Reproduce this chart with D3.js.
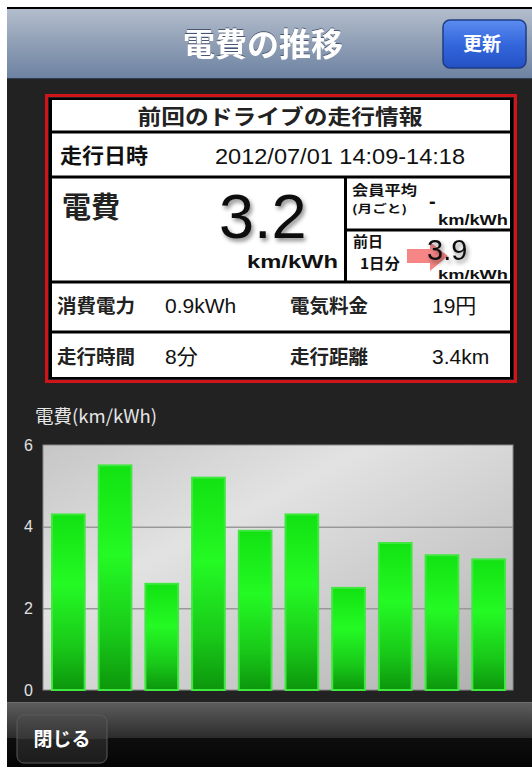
<!DOCTYPE html>
<html>
<head>
<meta charset="utf-8">
<script src="https://cdn.jsdelivr.net/npm/d3@7"></script>
<style>
  html, body { margin: 0; padding: 0; background: #fff; }
  svg { display: block; }
  text { font-family: "Liberation Sans", "Noto Sans CJK JP", sans-serif; }
  .jp { font-family: "Noto Sans CJK JP", sans-serif; }
</style>
</head>
<body>
<div id="chart"></div>
<script>
const width = 532;
const height = 767;

// chart data
const barValues = [4.3, 5.5, 2.6, 5.2, 3.9, 4.3, 2.5, 3.6, 3.3, 3.2];
const yTicks = [0, 2, 4, 6];
const gridTicks = [2, 4];
const yTitle = "電費(km/kWh)";

// info panel text
const pageTitle = "電費の推移";
const panelTitle = "前回のドライブの走行情報";
const driveDate = "2012/07/01  14:09-14:18";
const mileage = "3.2";
const memberAvg = "-";
const prevDay = "3.9";
const unit = "km/kWh";
const statLabels = ["消費電力", "電気料金", "走行時間", "走行距離"];
const statValues = ["0.9kWh", "19円", "8分", "3.4km"];

const svg = d3.select("#chart")
    .append("svg")
    .attr("width", width)
    .attr("height", height);

const defs = svg.append("defs");

function linGrad(id, stops, x2 = 0, y2 = 1) {
    const g = defs.append("linearGradient")
        .attr("id", id)
        .attr("x1", 0).attr("y1", 0)
        .attr("x2", x2).attr("y2", y2);
    stops.forEach(s => g.append("stop").attr("offset", s[0]).attr("stop-color", s[1]));
}

linGrad("navGrad", [[0, "#b3becd"], [0.5, "#8f9eb5"], [1, "#6c82a1"]]);
linGrad("btnBlue", [[0, "#5b8cf0"], [0.5, "#3467dc"], [1, "#2351c4"]]);
linGrad("toolGrad", [[0, "#5e5e5e"], [0.55, "#2c2c2c"], [0.551, "#0e0e0e"], [1, "#050505"]]);
linGrad("btnDark", [[0, "#4c4c4c"], [0.5, "#363636"], [0.51, "#252525"], [1, "#1c1c1c"]]);
linGrad("plotGrad", [[0, "#c6c6c6"], [0.35, "#e2e2e2"], [0.75, "#c4c4c4"], [1, "#adadad"]], 1, 1);
linGrad("barGrad", [[0, "#12e212"], [0.4, "#24fa24"], [0.75, "#19c919"], [1, "#0c960c"]]);

const shadow = defs.append("filter").attr("id", "shadow")
    .attr("x", "-20%").attr("y", "-20%").attr("width", "140%").attr("height", "140%");
shadow.append("feDropShadow")
    .attr("dx", 2).attr("dy", 3).attr("stdDeviation", 2)
    .attr("flood-color", "#000").attr("flood-opacity", 0.45);

const titleShadow = defs.append("filter").attr("id", "titleShadow");
titleShadow.append("feDropShadow")
    .attr("dx", 0).attr("dy", -1).attr("stdDeviation", 0.4)
    .attr("flood-color", "#40506a").attr("flood-opacity", 0.9);

// page frame
svg.append("rect").attr("x", 7).attr("y", 7).attr("width", width - 7).attr("height", height - 7).attr("fill", "#222");

// nav bar
svg.append("rect").attr("x", 7).attr("y", 7).attr("width", width - 7).attr("height", 2).attr("fill", "#000");
svg.append("rect").attr("x", 7).attr("y", 9).attr("width", width - 7).attr("height", 70).attr("fill", "url(#navGrad)");
svg.append("rect").attr("x", 7).attr("y", 78).attr("width", width - 7).attr("height", 1).attr("fill", "#2d3a4f");
svg.append("text")
    .attr("class", "jp")
    .attr("x", 263).attr("y", 56)
    .attr("text-anchor", "middle")
    .attr("font-size", 32).attr("font-weight", "bold")
    .attr("fill", "#fff")
    .attr("filter", "url(#titleShadow)")
    .text(pageTitle);

svg.append("rect")
    .attr("x", 443).attr("y", 20).attr("width", 83).attr("height", 48).attr("rx", 7)
    .attr("fill", "url(#btnBlue)").attr("stroke", "#1f3c84").attr("stroke-width", 1.5);
svg.append("text")
    .attr("class", "jp")
    .attr("x", 482).attr("y", 51)
    .attr("text-anchor", "middle")
    .attr("font-size", 19).attr("font-weight", "bold")
    .attr("fill", "#fff")
    .text("更新");

// info panel
const panel = svg.append("g");
panel.append("rect").attr("x", 46.5).attr("y", 95.5).attr("width", 469).attr("height", 286)
    .attr("fill", "none").attr("stroke", "#d0141a").attr("stroke-width", 3);
panel.append("rect").attr("x", 49).attr("y", 98).attr("width", 464).attr("height", 281).attr("fill", "#000");
panel.append("rect").attr("x", 52).attr("y", 100).attr("width", 458).attr("height", 277).attr("fill", "#fff");

const hLines = [[52, 510, 132], [52, 510, 177], [52, 510, 282], [52, 510, 332], [345, 510, 230]];
hLines.forEach(l => panel.append("line")
    .attr("x1", l[0]).attr("x2", l[1]).attr("y1", l[2]).attr("y2", l[2])
    .attr("stroke", "#000").attr("stroke-width", 3));
panel.append("line").attr("x1", 345.5).attr("x2", 345.5).attr("y1", 177).attr("y2", 282)
    .attr("stroke", "#000").attr("stroke-width", 3);

function label(x, y, txt, size, opts = {}) {
    const t = panel.append("text")
        .attr("x", x).attr("y", y)
        .attr("font-size", size)
        .attr("font-weight", opts.bold ? "bold" : "normal")
        .attr("fill", opts.fill || "#111")
        .attr("text-anchor", opts.anchor || "start")
        .text(txt);
    if (opts.jp) t.attr("class", "jp");
    if (opts.len) t.attr("textLength", opts.len).attr("lengthAdjust", "spacingAndGlyphs");
    if (opts.filter) t.attr("filter", opts.filter);
    return t;
}

label(280, 124, panelTitle, 21, { bold: true, jp: true, anchor: "middle", len: 285, fill: "#222" });
label(60, 163, "走行日時", 21, { bold: true, jp: true, len: 88 });
label(215, 164, driveDate, 22, { len: 250 });

label(62, 218, "電費", 29, { bold: true, jp: true, fill: "#222" });
label(219, 238, mileage, 63, { filter: "url(#shadow)" });
label(338, 268, unit, 18, { bold: true, anchor: "end", len: 91 });

label(352, 195, "会員平均", 14, { bold: true, jp: true, len: 65 });
label(352, 213, "(月ごと)", 11, { bold: true, jp: true, len: 55 });
label(429, 208, memberAvg, 20, { bold: true });
label(508, 225, unit, 14, { bold: true, anchor: "end", len: 70 });

label(353, 247, "前日", 15, { bold: true, jp: true });
label(360, 269, "1日分", 15, { bold: true, jp: true, len: 40 });
panel.append("path")
    .attr("d", "M407,249 L430,249 L430,242 L448,256 L430,271 L430,263 L407,263 Z")
    .attr("fill", "#f47070").attr("opacity", 0.85);
label(427, 260, prevDay, 29, { filter: "url(#shadow)" });
label(508, 279, unit, 13, { bold: true, anchor: "end", len: 70 });

const statX = [[57, 165], [290, 432]];
const statY = [313, 364];
statLabels.forEach((s, i) => {
    const col = i % 2;
    const row = Math.floor(i / 2);
    label(statX[col][0], statY[row], s, 19, { bold: true, jp: true, len: 78, fill: "#222" });
    label(statX[col][1], statY[row], statValues[i], 21, {});
});

// bar chart
const plot = { left: 43, right: 513, top: 445, bottom: 690 };

const x = d3.scaleBand()
    .domain(d3.range(barValues.length))
    .range([45, 512])
    .paddingInner(0.3)
    .paddingOuter(0.15);

const y = d3.scaleLinear()
    .domain([0, 6])
    .range([plot.bottom, plot.top]);

svg.append("text")
    .attr("class", "jp")
    .attr("x", 35).attr("y", 423)
    .attr("font-size", 18)
    .attr("fill", "#e6e6e6")
    .attr("textLength", 122).attr("lengthAdjust", "spacingAndGlyphs")
    .text(yTitle);

svg.append("rect")
    .attr("x", plot.left).attr("y", plot.top)
    .attr("width", plot.right - plot.left).attr("height", plot.bottom - plot.top)
    .attr("fill", "url(#plotGrad)")
    .attr("stroke", "#8a8a8a").attr("stroke-width", 1);

svg.append("g")
    .attr("transform", `translate(${plot.left},0)`)
    .call(d3.axisLeft(y).tickValues(gridTicks).tickSize(-(plot.right - plot.left)).tickFormat(""))
    .call(g => g.select(".domain").remove())
    .call(g => g.selectAll("line").attr("stroke", "#999").attr("stroke-width", 1.5));

svg.append("g")
    .attr("transform", `translate(${plot.left},0)`)
    .call(d3.axisLeft(y).tickValues(yTicks).tickFormat(d3.format("d")).tickSize(0).tickPadding(10))
    .call(g => g.select(".domain").remove())
    .call(g => g.selectAll("text")
        .attr("fill", "#e0e0e0")
        .attr("font-size", 16)
        .attr("font-family", "Liberation Sans, sans-serif"));

svg.append("g")
    .selectAll("rect")
    .data(barValues)
    .join("rect")
    .attr("x", (d, i) => x(i))
    .attr("y", d => y(d))
    .attr("width", x.bandwidth())
    .attr("height", d => y(0) - y(d))
    .attr("fill", "url(#barGrad)")
    .attr("stroke", "#3ee83e")
    .attr("stroke-width", 2);

// bottom toolbar
svg.append("rect").attr("x", 7).attr("y", 702).attr("width", width - 7).attr("height", 65).attr("fill", "url(#toolGrad)");
svg.append("rect").attr("x", 7).attr("y", 702).attr("width", width - 7).attr("height", 1).attr("fill", "#6e6e6e");
svg.append("rect")
    .attr("x", 17).attr("y", 715).attr("width", 90).attr("height", 48).attr("rx", 7)
    .attr("fill", "url(#btnDark)").attr("stroke", "#5a5a5a").attr("stroke-width", 1);
svg.append("text")
    .attr("class", "jp")
    .attr("x", 62).attr("y", 746)
    .attr("text-anchor", "middle")
    .attr("font-size", 19).attr("font-weight", "bold")
    .attr("fill", "#fff")
    .text("閉じる");
</script>
</body>
</html>
